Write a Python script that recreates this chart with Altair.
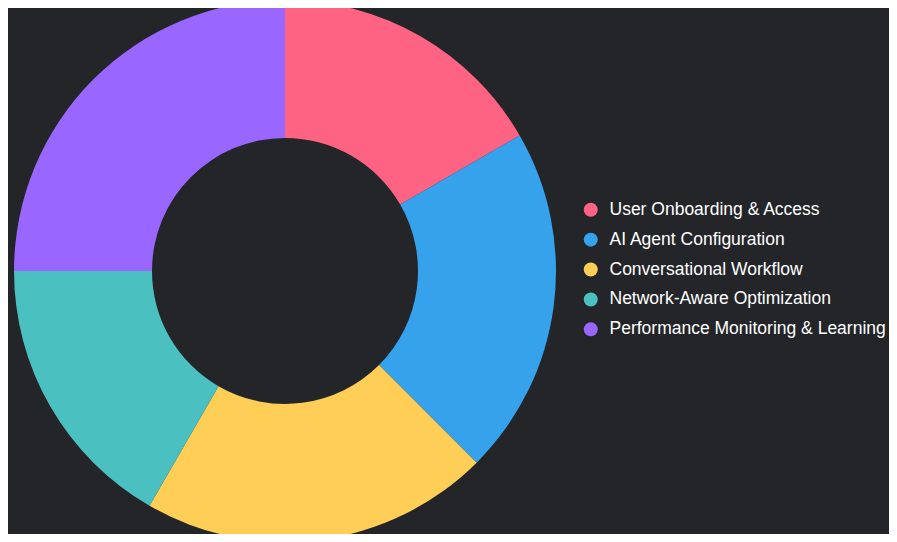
import altair as alt
import pandas as pd

categories = [
    "User Onboarding & Access",
    "AI Agent Configuration",
    "Conversational Workflow",
    "Network-Aware Optimization",
    "Performance Monitoring & Learning",
]
values = [4, 5, 5, 4, 6]
colors = ["#FF6384", "#36A2EB", "#FFCE56", "#4BC0C0", "#9966FF"]

df = pd.DataFrame({"category": categories, "value": values, "idx": list(range(len(categories)))})

chart = alt.Chart(df).mark_arc(radius=271, radius2=133).encode(
    theta=alt.Theta("value:Q", stack=True),
    order=alt.Order("idx:Q"),
    x=alt.value(277),
    y=alt.value(263),
    color=alt.Color(
        "category:N",
        sort=categories,
        scale=alt.Scale(domain=categories, range=colors),
        legend=alt.Legend(
            title=None,
            orient="none",
            legendX=574,
            legendY=193,
            symbolType="circle",
            symbolSize=196,
            symbolStrokeWidth=0,
            labelFontSize=17.5,
            labelFont="Liberation Sans",
            labelColor="#ffffff",
            labelOffset=10,
            rowPadding=10.9,
            labelLimit=400,
        ),
    ),
).properties(
    width=881, height=526, padding=0, autosize=alt.AutoSizeParams(type="none"),
    background="#232529",
).configure_view(stroke=None)

chart.save("out.html", embed_options={"renderer": "svg", "actions": False})
